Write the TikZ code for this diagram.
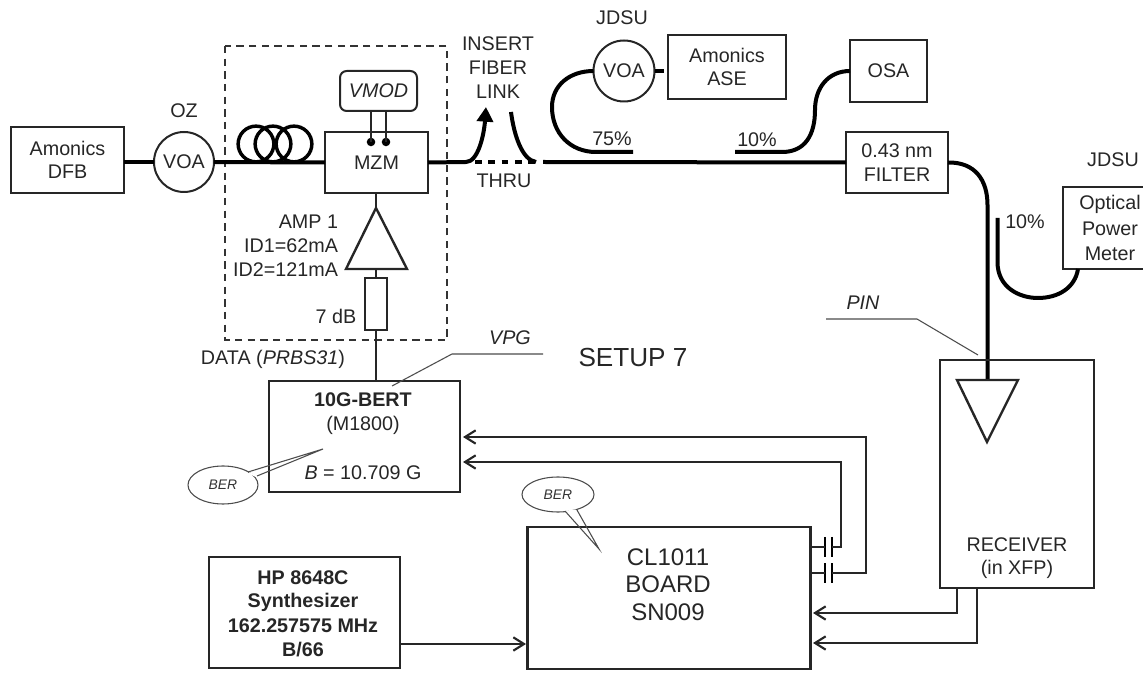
\documentclass[tikz,border=0pt]{standalone}
\usepackage{fontspec}
\setmainfont{Liberation Sans}
\usetikzlibrary{arrows.meta,calc,shapes.geometric}
\tikzset{
  x=0.75pt,y=-0.75pt,
  sz/.style 2 args={minimum width=#1*0.75pt,minimum height=#2*0.75pt},
  every node/.style={font=\fontsize{14.8pt}{17.5pt}\selectfont,align=center,inner sep=0pt,outer sep=0pt},
  boxnode/.style={draw=black!85,line width=1.9pt,rectangle},
  thinbox/.style={draw=black!85,line width=1.5pt,rectangle},
  circ/.style={draw=black!85,line width=1.5pt,circle},
  lbl/.style={text=black!85},
  biglbl/.style={text=black!85,font=\fontsize{18pt}{20pt}\selectfont},
  fiber/.style={draw=black,line width=3pt},
  wire/.style={draw=black!85,line width=1.6pt},
  thinline/.style={draw=black!70,line width=0.8pt},
  arrowwire/.style={wire,-{Straight Barb[length=8pt,width=10pt,line width=1.6pt]}},
  bubble/.style={draw=black!70,line width=0.8pt},
  small/.style={font=\fontsize{10.4pt}{12pt}\selectfont\itshape},
}
\begin{document}
\begin{tikzpicture}
\useasboundingbox (0,0) rectangle (1143,673);
% nodes
\node[boxnode,sz={113}{66},lbl] (dfb) at (67.5,160) {Amonics\\DFB};
\node[circ,sz={60}{60},lbl] (voa1) at (184,162) {VOA};
\node[lbl] (oz) at (184,111) {OZ};
\node[boxnode,sz={103}{61},lbl] (mzm) at (376.5,162.5) {MZM};
\node[thinbox,rounded corners=5pt,sz={77}{40},lbl] (vmod) at (378.5,91) {\itshape VMOD};
\draw[draw=black!80,line width=1pt,dash pattern=on 5.5pt off 4pt] (225,46) rectangle (447,340);
\coordinate (d1) at (371,142);
\coordinate (d2) at (386,142);
\fill[black] (d1) circle[radius=3.2pt] (d2) circle[radius=3.2pt];
\coordinate (v1) at (vmod.south -| d1);
\coordinate (v2) at (vmod.south -| d2);
\draw[wire,line width=1.1pt] (v1) -- (d1) (v2) -- (d2);
\foreach \cx in {256,273,294}{\draw[black,line width=2.6pt] (\cx,144) circle[radius=13.4pt];}
\draw[fiber] (dfb.east |- voa1.west) -- (voa1.west);
\draw[fiber] (voa1.east) -- (mzm.west);
% amp
\coordinate (ampT) at (376,208);
\coordinate (ampB) at (376,269);
\draw[draw=black!85,line width=1.8pt,line join=miter] (ampT) -- (407,269) -- (346,269) -- cycle;
\draw[wire] (mzm.south -| ampT) -- (ampT);
\node[thinbox,sz={22}{52}] (res) at (376,304) {};
\draw[wire] (ampB) -- (res.north);
\node[lbl,anchor=east] (amp) at (338,222) {AMP 1};
\node[lbl,anchor=east] (id1) at (338,246) {ID1=62mA};
\node[lbl,anchor=east] (id2) at (338,270) {ID2=121mA};
\node[lbl] (db) at (336,316) {7 dB};
\node[lbl] (data) at (273,359) {DATA (\textit{PRBS31})};
% BERT
\node[boxnode,sz={191}{111},lbl] (bert) at (364.5,436.5) {};
\draw[wire] (res.south) -- (bert.north -| res.south);
\node[lbl] (b1) at (363,400) {\textbf{10G-BERT}};
\node[lbl] (b2) at (363,425) {(M1800)};
\node[lbl] (b3) at (363,473) {\textit{B} = 10.709 G};
\node[lbl] (vpg) at (510,338) {\itshape VPG};
\coordinate (vpgA) at (543,354);
\coordinate (vpgB) at (452,354);
\coordinate (vpgC) at (392,386);
\draw[thinline] (vpgA) -- (vpgB) -- (vpgC);
\node[font=\fontsize{19.6pt}{24pt}\selectfont,text=black!85] (setup) at (633,358) {SETUP 7};
% BER bubbles
\coordinate (t1) at (323,449);
\node[bubble,ellipse,draw,sz={70}{38},small,text=black!80] (ber1) at (223,485) {BER};
\draw[white,line width=1.4pt] (249,473) -- (256,476);
\draw[bubble] (248,472) -- (t1) -- (257,476);
\coordinate (t2) at (599,549);
% fibre tail
\coordinate (fa) at (466,162);
\coordinate (fb) at (486,107);
\draw[fiber,-{Triangle[length=11pt,width=12pt]}] (mzm.east) -- (fa) .. controls (478,162) and (484,135) .. (fb);
\coordinate (fc) at (511,112);
\coordinate (fd) at (536,162);
\draw[fiber] (fc) .. controls (514,135) and (522,160) .. (fd);
\draw[draw=black,line width=3pt,dash pattern=on 5pt off 5pt] (475,162) -- (536,162);
\node[lbl] (ins) at (498,44) {INSERT};
\node[lbl] (fib) at (498,68) {FIBER};
\node[lbl] (lnk) at (498,92) {LINK};
\node[lbl] (thru) at (504,181) {THRU};
% right part
\node[lbl] (jd1) at (622,18) {JDSU};
\node[circ,sz={61}{61},lbl] (voa2) at (624,71) {VOA};
\node[boxnode,sz={118}{64},lbl] (ase) at (727,67) {Amonics\\ASE};
\coordinate (aseL) at (664,71);
\draw[fiber] (voa2.east) -- (aseL);
\node[boxnode,sz={77}{62},lbl] (osa) at (888.5,71) {OSA};
\node[boxnode,sz={102}{61},lbl] (flt) at (897,162.5) {0.43 nm\\FILTER};
\coordinate (jn) at (543,162);
\draw[fiber] (jn) -- (flt.west);
\coordinate (c75) at (633,152);
\coordinate (c10) at (735,152);
\draw[fiber] (voa2.west) .. controls (570,71) and (552,85) .. (552,107) .. controls (552,133) and (570,152) .. (596,152) -- (c75);
\draw[fiber] (c10) -- (782,152) .. controls (805,152) and (815,135) .. (815,110) .. controls (815,88) and (828,71) .. (osa.west);
\node[lbl] (p75) at (612,139) {75\%};
\node[lbl] (p10) at (757,140) {10\%};
\node[lbl] (jd2) at (1113,160) {JDSU};
\node[boxnode,sz={100}{82},lbl] (opm) at (1113,228) {};
\node[lbl] (o1) at (1110,204) {Optical};
\node[lbl] (o2) at (1110,229) {Power};
\node[lbl] (o3) at (1110,254) {Meter};
\node[lbl] (p3) at (1025,222) {10\%};
\coordinate (pinT) at (987.5,380);
\draw[fiber] (flt.east) .. controls (975,162) and (987.5,180) .. (987.5,205) -- (pinT);
\coordinate (cp) at (997.5,218);
\coordinate (opmB) at (1078,269);
\draw[fiber] (cp) -- (997.5,262) .. controls (997.5,288) and (1020,298) .. (1038,298) .. controls (1058,298) and (1075,288) .. (opmB);
\node[boxnode,sz={154}{228},lbl] (rx) at (1017,474) {};
\coordinate (tr1) at (957,380);
\coordinate (tr2) at (1018,380);
\coordinate (tr3) at (987,442);
\draw[draw=black!85,line width=1.8pt,line join=miter] (tr1) -- (tr2) -- (tr3) -- cycle;
\node[lbl] (r1) at (1017,545) {RECEIVER};
\node[lbl] (r2) at (1017,569) {(in XFP)};
\node[lbl] (pin) at (863,303) {\itshape PIN};
\coordinate (pa) at (826,319);
\coordinate (pb) at (917,319);
\coordinate (pc) at (978,355);
\draw[thinline] (pa) -- (pb) -- (pc);
% board
\node[boxnode,sz={283}{142},lbl] (brd) at (669,598) {};
\node[biglbl] (c1) at (668,557) {CL1011};
\node[biglbl] (c2) at (668,584) {BOARD};
\node[biglbl] (c3) at (668,612) {SN009};
\node[boxnode,line width=2.2pt,sz={191}{111}] (hp) at (304.5,612.5) {};
\node[lbl] (h1) at (303,578) {\textbf{HP 8648C}};
\node[lbl] (h2) at (303,602) {\textbf{Synthesizer}};
\node[lbl] (h3) at (303,626) {\textbf{162.257575 MHz}};
\node[lbl] (h4) at (303,650) {\textbf{B/66}};
\node[bubble,ellipse,draw,sz={72}{35},small,text=black!80] (ber2) at (558,494.5) {BER};
\draw[white,line width=1.4pt] (566,511.5) -- (576,510.5);
\draw[bubble] (565,511) -- (t2) -- (577,510);
\coordinate (hpo) at (400,644);
\coordinate (bi) at (526,644);
\draw[arrowwire] (hpo) -- (bi);
\coordinate (rxa) at (957,588);
\coordinate (rxb) at (977,588);
\coordinate (ba) at (813,613);
\coordinate (bb) at (813,643);
\draw[arrowwire] (rxa) |- (ba);
\draw[arrowwire] (rxb) |- (bb);
% capacitors
\coordinate (ba1) at (463,462);
\coordinate (ba2) at (463,437);
\foreach \yy in {547,573}{
 \draw[black,line width=2.2pt] (825,\yy-10) -- (825,\yy+10) (832,\yy-10) -- (832,\yy+10);
 \draw[wire] (811,\yy) -- (825,\yy);
}
\draw[arrowwire] (832,547) -- (841,547) -- (841,462) -- (ba1);
\draw[arrowwire] (832,573) -- (866,573) -- (866,437) -- (ba2);
\end{tikzpicture}
\end{document}
